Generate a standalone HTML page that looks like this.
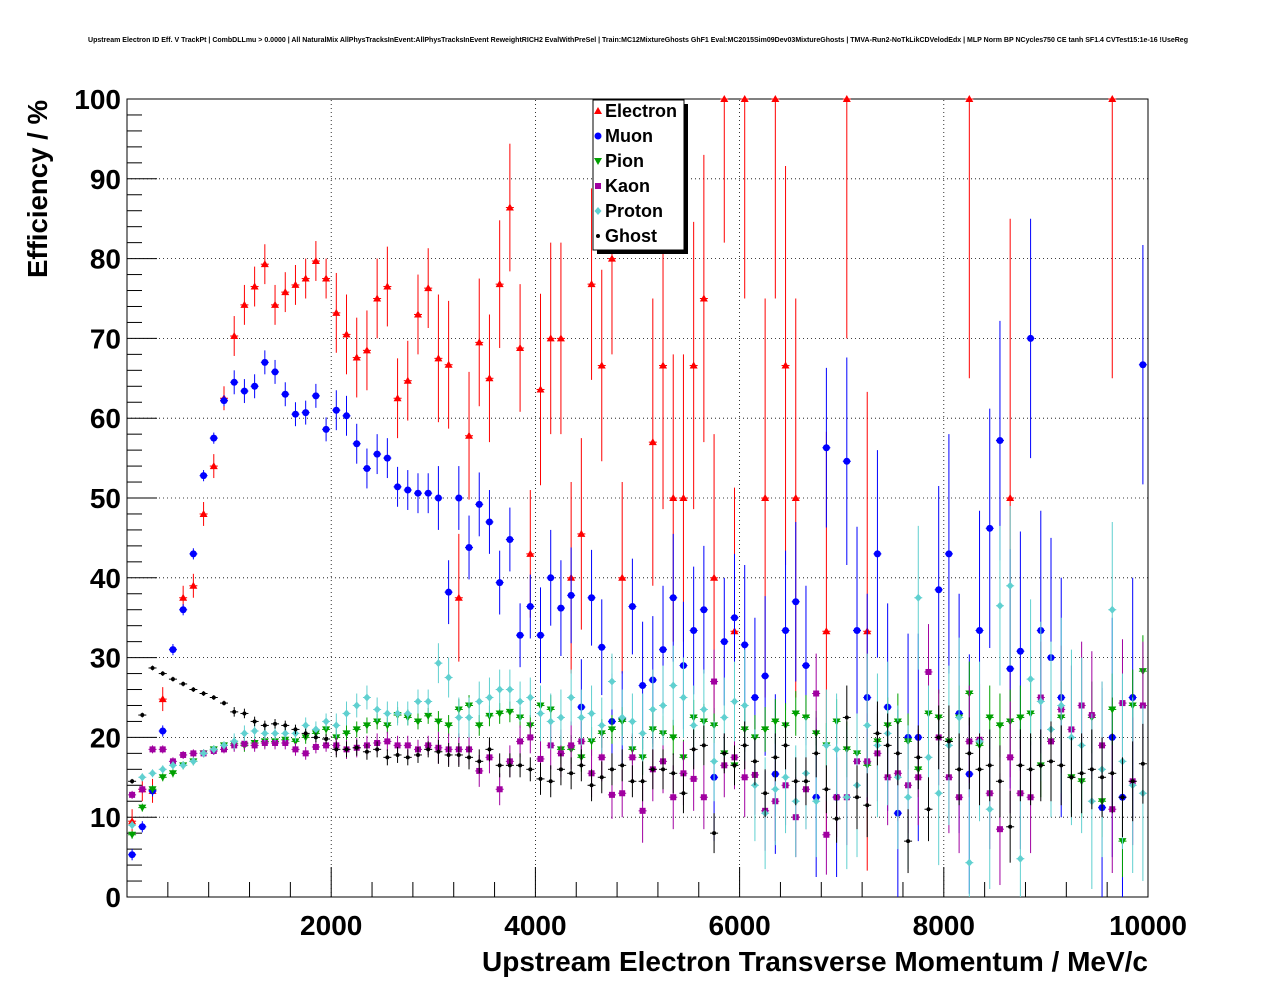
<!DOCTYPE html>
<html><head><meta charset="utf-8"><style>
html,body{margin:0;padding:0;background:#fff;}
svg text{font-family:"Liberation Sans",sans-serif;}
</style></head><body>
<svg id="c" width="1276" height="996" xmlns="http://www.w3.org/2000/svg">
<rect x="0" y="0" width="1276" height="996" fill="#fff"/>
<text x="638" y="42" font-size="7" font-weight="bold" text-anchor="middle" textLength="1100" lengthAdjust="spacingAndGlyphs">Upstream Electron ID Eff. V TrackPt | CombDLLmu &gt; 0.0000 | All NaturalMix AllPhysTracksInEvent:AllPhysTracksInEvent ReweightRICH2 EvalWithPreSel | Train:MC12MixtureGhosts GhF1 Eval:MC2015Sim09Dev03MixtureGhosts | TMVA-Run2-NoTkLikCDVelodEdx | MLP Norm BP NCycles750 CE tanh SF1.4 CVTest15:1e-16 !UseReg</text>
<g id="grid"></g>
<g id="axes"></g>
<g id="marks"></g>
<text x="1148" y="971" font-size="28" font-weight="bold" text-anchor="end" textLength="666" lengthAdjust="spacingAndGlyphs">Upstream Electron Transverse Momentum / MeV/c</text>
<text transform="translate(47,278) rotate(-90)" font-size="27.5" font-weight="bold" text-anchor="start" textLength="178" lengthAdjust="spacingAndGlyphs">Efficiency / %</text>
<g id="legend"></g>
</svg>
<script>
const binWidth = 100;
const xTicks = [2000, 4000, 6000, 8000, 10000];
const yTicks = [0, 10, 20, 30, 40, 50, 60, 70, 80, 90, 100];
const seriesNames = ["Electron", "Muon", "Pion", "Kaon", "Proton", "Ghost"];
const N = null;
const electron = [9.5,13.5,13.3,24.8,N,37.5,39,48,54,62.5,70.3,74.2,76.5,79.3,74.2,75.8,76.7,77.5,79.7,77.5,73.2,70.5,67.6,68.5,75,76.5,62.5,64.7,73,76.3,67.5,66.7,37.5,57.8,69.5,65,76.8,86.4,68.8,43,63.6,70,70,40,45.5,76.8,66.6,80,40,N,N,57,66.6,50,50,66.6,75,40,100,33.3,100,N,50,100,66.6,50,N,N,33.3,N,100,N,33.3,N,N,N,N,N,N,N,N,N,100,N,N,N,50,N,N,N,N,N,N,N,N,N,100,N,N,N];
const muon = [5.3,8.8,13.3,20.8,31,36,43,52.8,57.5,62.2,64.5,63.4,64,67,65.8,63,60.5,60.7,62.8,58.6,61,60.3,56.8,53.7,55.5,55,51.4,51,50.6,50.6,50,38.2,50,43.8,49.2,47,39.4,44.8,32.8,36.4,32.8,40,36.2,37.8,23.8,37.5,31.3,22,22.3,36.4,26.5,27.2,31,37.5,29,33.4,36,15,32,35,31.6,25,27.7,15.4,33.4,37,29,12.5,56.3,12.5,54.6,33.4,25,43,23.8,10.5,20,20,N,38.5,43,23,15.4,33.4,46.2,57.2,28.6,30.8,70,33.4,30,25,N,N,N,11.2,20,12.5,25,66.7];
const pion = [7.8,11.2,13.5,15,15.5,16.5,17,18,18.5,19,19.2,19,19.3,19.5,19.5,19.7,19.5,20,20.5,21,20,20.5,21,21.5,22,21.5,22.8,22.5,22,22.7,22,21.5,23.5,24,21.5,22.7,23,23.2,22.5,21.5,24,23.5,18.5,18.5,17.5,19.5,20.5,21,22,18.5,17.5,21,20.5,20,17.5,22.5,22,21.5,18,16.5,21,20,21,22,21.5,23,22.5,20.5,19,22,18.5,18,16.5,19.5,21.5,22,19.5,16,23,22.5,19.5,22.5,25.5,19,22.5,21.5,22,22.5,23,16.5,19.5,22.5,15,14.5,22.5,12,23.5,7,24,28.3];
const kaon = [12.8,13.5,18.5,18.5,17,17.8,18,18,18.3,18.5,19,19.2,19,19.3,19.3,19.3,18.5,18,18.8,19,19,18.5,18.7,19,19.3,19.5,19,19,18.5,19,18.7,18.5,18.5,18.5,15.8,17.5,13.5,17,19.5,20,17.3,19,18,19,19.5,15.5,17.5,12.8,13,17.5,10.8,16,17,12.5,15.5,14.8,12.5,27,16.5,17.5,15,15.3,10.8,12,14,10,13.5,25.5,7.8,12.5,12.5,17,17,18,15,15.5,14,15,28.2,20,15,12.5,19.5,19.7,13,8.5,17.5,13,12.5,25,19.5,23.5,21,24,22.8,19,11,24.3,14.5,24];
const proton = [9,15,15.5,16,16.5,16.5,17,18,18.5,19,19.5,20.5,20.8,20.5,20.5,20.5,20.5,21.5,21,22,21.5,23,24,25,23.5,23,23,23,24.5,24.5,29.3,27.5,22.5,22.5,24.5,25,26,26,24.5,25,23,22,22.5,25,22.5,23,21.5,27,22.5,22,20.5,23.5,24,26.5,25,21.5,23.5,17,22.5,24.5,24,14,10.5,13.5,15,12,15.5,12,19,18.5,12.5,14,21.5,19,20.5,15,12.5,37.5,17.5,13,19,22.5,4.3,19.5,11,36.5,39,4.8,27.3,24.5,21,24,20,19,12,16,36,17,14,13];
const ghost = [14.5,22.8,28.7,28,27.3,26.7,26,25.5,25,24.3,23.2,23,22,21.5,21.7,21.5,21,20.5,20,19.8,18.5,18.5,18.7,18.2,18.5,17.5,17.8,17.5,17.8,18.5,18.2,17.8,17.8,17.5,17,18.5,16.5,16.5,16.5,16,14.8,14.5,16,15.5,16.5,14,15,16,16.5,14.5,14.5,16,16,15.5,13,18.5,19,8,18,16.5,19,17,13,17.5,19,14.5,14.5,18,13.5,9.8,22.5,12.5,11.5,20.5,19,18,7,17.5,11,20,19.5,16,18,16,16.5,14.5,8.8,16.5,16,16.5,17,16.5,15,15.5,16,15,15.5,12.5,14.5,16.7];
// error half-widths per 1000 MeV block
const electronErr = [1.5,2.5,5,8,12,18,25,30,35,35];
const muonErr = [0.7,1.5,2.5,4,6,8,10,13,15,15];
const pionErr = [0.5,0.8,1,1.3,1.8,2.2,2.8,3.5,4,4.5];
const kaonErr = [0.5,0.8,1.2,2,3,4,5,6,7,8];
const protonErr = [0.5,1,1.5,2.5,3.5,5,7,9,10,11];
const ghostErr = [0.3,0.6,1,1.5,2,2.5,3,4,4.5,5];

const X0=127,X1=1148,Y0=897,Y1=99;
const xs=v=>X0+(v/10000)*(X1-X0);
const ys=v=>Y0-(v/100)*(Y0-Y1);
const NS="http://www.w3.org/2000/svg";
function mk(tag,attrs,parent){const e=document.createElementNS(NS,tag);for(const k in attrs)e.setAttribute(k,attrs[k]);parent.appendChild(e);return e;}
const grid=document.getElementById('grid'),axes=document.getElementById('axes'),marks=document.getElementById('marks'),leg=document.getElementById('legend');

xTicks.forEach(t=>{const l=mk('line',{x1:xs(t),x2:xs(t),y1:Y0,y2:Y1,stroke:'#000','stroke-width':0.8,'stroke-dasharray':'1,3'},grid);

});
yTicks.forEach(t=>{const l=mk('line',{x1:X0,x2:X1,y1:ys(t),y2:ys(t),stroke:'#000','stroke-width':0.8,'stroke-dasharray':'1,3'},grid);

});

const frame=mk('rect',{x:X0,y:Y1,width:X1-X0,height:Y0-Y1,fill:'none',stroke:'#000','stroke-width':1},axes);


for(let v=0;v<=10000;v+=400){const big=v%2000===0;mk('line',{x1:xs(v),x2:xs(v),y1:Y0,y2:Y0-(big?30:15),stroke:'#000'},axes);}
for(let v=0;v<=100;v+=2){const big=v%10===0;mk('line',{x1:X0,x2:X0+(big?30:15),y1:ys(v),y2:ys(v),stroke:'#000'},axes);}
xTicks.forEach(t=>{const tx=mk('text',{x:xs(t),y:935,'font-size':28,'font-weight':'bold','text-anchor':'middle'},axes);tx.textContent=t;

});
yTicks.forEach(t=>{const tx=mk('text',{x:121,y:ys(t)+10,'font-size':28,'font-weight':'bold','text-anchor':'end'},axes);tx.textContent=t;

});

const colors=['#ff0000','#0000ff','#00a000','#a000a0','#60d0d0','#000000'];
const data=[electron,muon,pion,kaon,proton,ghost];
const errs=[electronErr,muonErr,pionErr,kaonErr,protonErr,ghostErr];
function marker(type,cx,cy,col,g){
  if(type===0)mk('polygon',{points:`${cx},${cy-4} ${cx-4},${cy+3} ${cx+4},${cy+3}`,fill:col},g);
  else if(type===1)mk('circle',{cx:cx,cy:cy,r:3.5,fill:col},g);
  else if(type===2)mk('polygon',{points:`${cx},${cy+4} ${cx-4},${cy-3} ${cx+4},${cy-3}`,fill:col},g);
  else if(type===3)mk('rect',{x:cx-3,y:cy-3,width:6,height:6,fill:col},g);
  else if(type===4)mk('polygon',{points:`${cx},${cy-4} ${cx+3.5},${cy} ${cx},${cy+4} ${cx-3.5},${cy}`,fill:col},g);
  else mk('circle',{cx:cx,cy:cy,r:2,fill:col},g);
}
data.forEach((arr,s)=>{
  const g=mk('g',{},marks);
  
  
  arr.forEach((v,i)=>{
    if(v===null)return;
    const xc=(i+0.5)*binWidth;
    const e=errs[s][Math.floor(i/10)];
    const cx=xs(xc),cy=ys(v);
    mk('line',{x1:cx,x2:cx,y1:ys(Math.min(100,v+e)),y2:ys(Math.max(0,v-e)),stroke:colors[s],'stroke-width':1},g);
    mk('line',{x1:cx-4,x2:cx+4,y1:cy,y2:cy,stroke:colors[s],'stroke-width':1},g);
    marker(s,cx,cy,colors[s],g);
  });
});

// legend
mk('rect',{x:597,y:104,width:91,height:150,fill:'#000'},leg);
const lb=mk('rect',{x:593,y:100,width:91,height:150,fill:'#fff',stroke:'#000','stroke-width':1},leg);


seriesNames.forEach((n,s)=>{
  const y=111+25*s;
  const g=mk('g',{},leg);
  
  
  marker(s,598,y,colors[s],g);
  const t=mk('text',{x:605,y:y+6,'font-size':18,'font-weight':'bold'},g);t.textContent=n;
});
</script>
</body></html>
